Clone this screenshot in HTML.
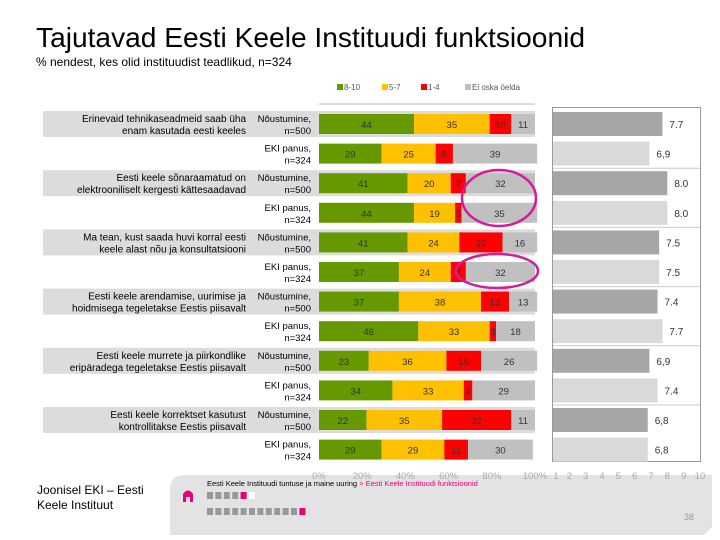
<!DOCTYPE html>
<html><head><meta charset="utf-8"><style>
html,body{margin:0;padding:0;background:#fff;width:720px;height:540px;overflow:hidden}
svg{display:block;font-family:"Liberation Sans",sans-serif}
</style></head><body>
<svg id="c" width="720" height="540" viewBox="0 0 720 540">
<text x="36" y="47" font-size="28" fill="#000" textLength="549" lengthAdjust="spacingAndGlyphs">Tajutavad Eesti Keele Instituudi funktsioonid</text>
<text x="36" y="66" font-size="12" fill="#000">% nendest, kes olid instituudist teadlikud, n=324</text>
<g id="legend"></g>
<g id="bands"></g>
<g id="rightbox"></g>
<g id="bars"></g>
<g id="labels"></g>
<ellipse cx="499" cy="198" rx="37" ry="28" fill="none" stroke="#d61a9c" stroke-width="2.5"/>
<ellipse cx="497" cy="271" rx="41" ry="17" fill="none" stroke="#d61a9c" stroke-width="2.5"/>
<text x="37" y="494" font-size="12" fill="#000">Joonisel EKI – Eesti</text>
<text x="37" y="509" font-size="12" fill="#000">Keele Instituut</text>
<path d="M185,475 L712,475 L712,527 L704,535 L170,535 L170,490 Q170,475 185,475 Z" fill="#e3e3e3"/>
<path d="M183,502 L183,494 Q188,487 193,494 L193,502 L190,502 L190,497 L186,497 L186,502 Z" fill="#e6007e"/>
<text x="207" y="486" font-size="7.5" fill="#000">Eesti Keele Instituudi tuntuse ja maine uuring <tspan fill="#e6007e">&gt; Eesti Keele Instituudi funktsioonid</tspan></text>
<g id="nav"></g>
<text x="694" y="520" font-size="9" fill="#999" text-anchor="end">38</text>
<g id="axes"></g>
</svg>
<script>
const statements=["Erinevaid tehnikaseadmeid saab üha|enam kasutada eesti keeles","Eesti keele sõnaraamatud on|elektrooniliselt kergesti kättesaadavad","Ma tean, kust saada huvi korral eesti|keele alast nõu ja konsultatsiooni","Eesti keele arendamise, uurimise ja|hoidmisega tegeletakse Eestis piisavalt","Eesti keele murrete ja piirkondlike|eripäradega tegeletakse Eestis piisavalt","Eesti keele korrektset kasutust|kontrollitakse Eestis piisavalt"];
const seriesNames=["8-10","5-7","1-4","Ei oska öelda"];
const s810=[44,29,41,44,41,37,37,46,23,34,22,29];
const s57=[35,25,20,19,24,24,38,33,36,33,35,29];
const s14=[10,8,7,3,20,7,13,3,16,4,32,11];
const sEi=[11,39,32,35,16,32,13,18,26,29,11,30];
const means=[7.7,6.9,8.0,8.0,7.5,7.5,7.4,7.7,6.9,7.4,6.8,6.8];
const meanLabels=["7.7","6,9","8.0","8.0","7.5","7.5","7.4","7.7","6,9","7.4","6,8","6,8"];
const pctTicks=["0%","20%","40%","60%","80%","100%"];
const meanTicks=[1,2,3,4,5,6,7,8,9,10];
const colors=["#669900","#ffc000","#ff0000","#c0c0c0"];
const NS="http://www.w3.org/2000/svg";
function el(t,a,p,txt){const e=document.createElementNS(NS,t);for(const k in a)e.setAttribute(k,a[k]);if(txt!==undefined)e.textContent=txt;document.getElementById(p).appendChild(e);return e;}
const X0=319,X1=535;const xs=v=>X0+(X1-X0)*v/100;
const M0=553,M1=700;const xm=v=>M0+(M1-M0)*(v-1)/9;
const rowY=i=>124+i*29.6;
const lx=[337,382,421,465];
seriesNames.forEach((n,i)=>{
 let r=el('rect',{x:lx[i],y:84,width:6,height:6,fill:colors[i]},'legend');
 
 
 let t=el('text',{x:lx[i]+7,y:90,'font-size':8,fill:'#555'},'legend',n);
 
 
});
for(let i=0;i<12;i+=2){
 let b=el('rect',{x:43,y:rowY(i)-13,width:X1-43,height:26,fill:'#dcdcdc'},'bands');
 
 
}
el('line',{x1:X0,y1:104,x2:X1,y2:104,stroke:'#bbb'},'bands');
let rb=el('rect',{x:552.5,y:107.5,width:148,height:354,fill:'#fff',stroke:'#999'},'rightbox');


for(let g=1;g<6;g++){const y=rowY(g*2)-15;el('line',{x1:553,y1:y,x2:700,y2:y,stroke:'#ccc'},'rightbox');}
const all=[s810,s57,s14,sEi];
for(let i=0;i<12;i++){
 let acc=0;const y=rowY(i);
 all.forEach((s,k)=>{
  const v=s[i];
  let r=el('rect',{x:xs(acc),y:y-10,width:xs(acc+v)-xs(acc),height:20,fill:colors[k]},'bars');
  
  
  el('text',{x:(xs(acc)+xs(acc+v))/2,y:y+4,'font-size':9.5,'text-anchor':'middle',fill:'#333'},'bars',v);
  acc+=v;
 });
 let m=el('rect',{x:M0,y:y-12,width:xm(means[i])-M0,height:24,fill:i%2==0?'#a6a6a6':'#d9d9d9'},'bars');
 
 
 el('text',{x:xm(means[i])+7,y:y+4,'font-size':10,fill:'#333'},'bars',meanLabels[i]);
}
for(let i=0;i<12;i++){
 const y=rowY(i);
 const a=i%2==0?["Nõustumine,","n=500"]:["EKI panus,","n=324"];
 el('text',{x:311,y:y-2,'font-size':9.5,'text-anchor':'end',fill:'#000'},'labels',a[0]);
 el('text',{x:311,y:y+10,'font-size':9.5,'text-anchor':'end',fill:'#000'},'labels',a[1]);
 if(i%2==0){const p=statements[i/2].split('|');
  el('text',{x:246,y:y-2,'font-size':10,'text-anchor':'end',fill:'#000'},'labels',p[0]);
  el('text',{x:246,y:y+10,'font-size':10,'text-anchor':'end',fill:'#000'},'labels',p[1]);}
}
pctTicks.forEach((t,i)=>{let e=el('text',{x:xs(i*20),y:479,'font-size':9.5,'text-anchor':'middle',fill:'#aaa'},'axes',t);
 });
meanTicks.forEach(v=>{let e=el('text',{x:xm(v)+(v==1?3:0),y:479,'font-size':9.5,'text-anchor':'middle',fill:'#aaa'},'axes',v);
 });
for(let i=0;i<6;i++){el('rect',{x:207+i*8.4,y:492,width:6,height:7,fill:i==4?'#e6007e':(i==5?'#fff':'#999')},'nav');}
for(let i=0;i<12;i++){el('rect',{x:207+i*8.4,y:508,width:6,height:7,fill:i==11?'#e6007e':'#999'},'nav');}
</script>
</body></html>
